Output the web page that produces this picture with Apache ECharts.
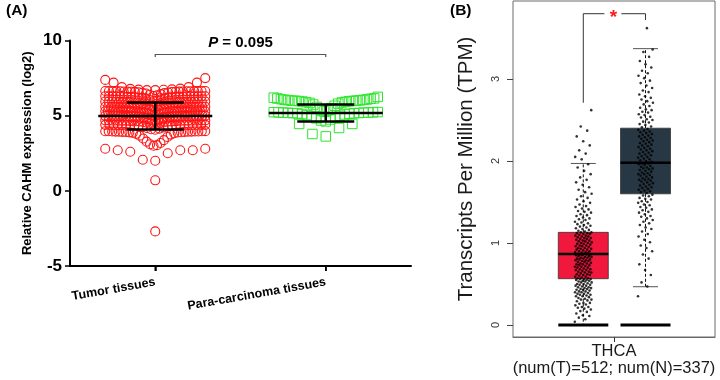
<!DOCTYPE html>
<html><head><meta charset="utf-8">
<script src="https://cdn.jsdelivr.net/npm/echarts@6/dist/echarts.min.js"></script>
<style>html,body{margin:0;padding:0;background:#fff}#c{width:720px;height:380px}</style>
</head><body><div id="c"></div>
<script>
// ---------- DATA ----------
const catsA = ['Tumor tissues', 'Para-carcinoma tissues'];
const tumorA = [
 7.50,7.38,7.20,7.20,6.90,6.90,6.80,6.78,6.75,6.73,6.72,6.70,6.70,
 6.31,6.35,6.39,6.43,6.47,6.50,6.52,6.54,6.56,6.57,6.58,6.59,6.59,6.60,6.60,6.61,6.61,6.62,6.62,6.62,6.63,6.63,6.63,6.63,6.64,6.64,6.64,6.64,
 5.96,6.00,6.04,6.08,6.12,6.15,6.17,6.19,6.21,6.22,6.23,6.24,6.24,6.25,6.25,6.26,6.26,6.27,6.27,6.27,6.28,6.28,6.28,6.28,6.29,6.29,6.29,6.29,
 5.61,5.65,5.69,5.73,5.77,5.80,5.82,5.84,5.86,5.87,5.88,5.89,5.89,5.90,5.90,5.91,5.91,5.91,5.92,5.92,5.92,5.93,5.93,5.93,5.93,5.94,5.94,5.94,5.94,5.94,
 5.31,5.34,5.37,5.40,5.43,5.45,5.47,5.49,5.50,5.51,5.52,5.53,5.53,5.54,5.54,5.55,5.55,5.55,5.56,5.56,5.56,5.57,5.57,5.57,5.57,5.58,5.58,5.58,5.58,5.58,5.59,5.59,5.59,5.59,5.59,
 5.01,5.03,5.06,5.09,5.12,5.14,5.16,5.18,5.19,5.20,5.21,5.22,5.22,5.23,5.23,5.24,5.24,5.25,5.25,5.25,5.26,5.26,5.26,5.27,5.27,5.27,5.27,5.28,5.28,5.28,5.28,5.28,5.29,5.29,5.29,5.29,5.29,5.29,5.29,5.29,
 4.71,4.73,4.76,4.79,4.82,4.85,4.87,4.89,4.90,4.91,4.92,4.93,4.93,4.94,4.94,4.95,4.95,4.95,4.96,4.96,4.96,4.97,4.97,4.97,4.97,4.98,4.98,4.98,4.98,4.98,4.99,4.99,4.99,4.99,4.99,
 4.41,4.44,4.47,4.50,4.53,4.56,4.58,4.60,4.61,4.62,4.63,4.64,4.64,4.65,4.65,4.66,4.66,4.66,4.67,4.67,4.67,4.68,4.68,4.68,4.68,4.69,4.69,4.69,4.69,4.69,
 4.06,4.10,4.14,4.18,4.22,4.25,4.28,4.30,4.32,4.33,4.34,4.35,4.35,4.36,4.36,4.37,4.37,4.37,4.38,4.38,4.38,4.39,4.39,4.39,4.39,
 3.00,3.04,3.10,3.18,3.27,3.37,3.48,3.58,3.67,3.74,3.79,3.83,3.86,3.88,3.89,3.90,3.91,3.92,3.92,3.93,
 3.93,3.94,3.94,3.95,3.95,3.95,3.96,3.96,3.96,3.97,
 2.80,2.80,2.70,2.70,2.70,2.60,2.50,2.07,2.00,
 0.70,-2.70
];
const paraA = [
 3.62,3.78,4.18,4.45,4.45,
 4.62,4.68,4.75,4.82,4.88,4.94,5.00,5.04,5.08,5.11,5.13,5.15,5.16,5.17,5.18,5.19,5.20,5.20,5.21,5.22,5.22,5.23,5.24,
 5.28,5.35,5.42,5.50,5.58,5.66,5.74,5.80,5.85,5.88,5.90,5.92,5.94,5.96,5.97,5.98,5.99,6.00,6.00,6.02,6.03,6.05,
 6.06,6.08,6.10,6.12,6.14,6.15,6.20,6.25
];
const meanA = [4.98, 5.18];
const sdA = [0.90, 0.56];
const pSymbol = 'P';
const pValue = '0.095';

const catsB = ['THCA'];
const countsB = [512, 337];
const tumorTPM = [
 0.04,0.07,0.09,0.11,0.12,0.14,0.16,0.17,0.19,0.20,
 0.21,0.22,0.22,0.24,0.25,0.26,0.27,0.27,0.29,0.30,0.31,0.31,0.32,0.33,0.34,0.35,0.35,0.36,0.37,0.37,0.38,0.38,0.39,0.40,0.40,
 0.41,0.41,0.42,0.43,0.43,0.44,0.44,0.45,0.45,0.46,0.46,0.47,0.48,0.48,0.49,0.49,0.50,0.50,0.51,0.52,0.52,0.53,0.53,0.54,0.54,0.55,0.55,0.56,0.56,0.56,
 0.57,0.57,0.58,0.59,0.59,0.60,0.61,0.61,0.62,0.62,0.63,0.64,0.64,0.65,0.65,0.66,0.67,0.67,0.68,0.68,0.69,0.70,0.70,0.71,0.71,0.72,0.73,0.73,0.74,0.74,
 0.75,0.75,0.76,0.77,0.77,0.78,0.78,0.79,0.79,0.80,0.80,0.81,0.81,0.82,0.82,0.83,0.83,0.84,0.84,0.85,0.85,0.86,0.86,0.86,
 0.87,0.87,0.88,0.88,0.89,0.89,0.90,0.90,0.91,0.92,0.92,0.93,0.93,0.94,0.94,0.95,0.96,0.96,0.97,0.97,0.98,0.99,0.99,1.00,1.00,
 1.01,1.02,1.02,1.03,1.03,1.04,1.05,1.05,1.06,1.06,1.07,1.08,1.08,1.09,1.09,1.10,1.11,1.11,1.12,1.12,1.13,1.13,
 1.14,1.15,1.16,1.17,1.18,1.19,1.20,1.21,1.22,1.23,1.24,1.25,1.26,1.28,1.29,1.30,1.31,1.33,1.34,1.35,1.37,1.38,1.39,1.41,1.42,1.44,1.45,1.47,1.49,
 1.51,1.53,1.55,1.57,1.60,1.62,1.65,1.68,1.71,1.74,1.77,1.80,1.84,1.88,1.92,1.96,
 2.02,2.05,2.09,2.13,2.19,2.24,2.30,2.37,2.42,2.62
];
const normalTPM = [
 0.35,0.47,0.52,0.61,0.67,0.74,0.81,0.86,0.90,0.94,
 0.97,1.01,1.04,1.08,1.11,1.14,1.17,1.19,1.22,1.24,1.26,1.28,
 1.30,1.32,1.33,1.35,1.37,1.38,1.40,1.41,1.43,1.44,1.46,1.47,1.49,1.50,1.51,1.53,1.54,1.55,1.57,1.58,1.59,
 1.61,1.62,1.63,1.64,1.65,1.66,1.67,1.68,1.69,1.70,1.71,1.72,1.73,1.74,1.75,1.76,1.77,1.77,1.78,1.79,1.80,
 1.81,1.82,1.83,1.84,1.84,1.85,1.86,1.87,1.88,1.89,1.90,1.91,1.91,1.92,1.93,1.94,1.95,1.96,1.97,1.97,
 1.99,2.00,2.01,2.02,2.03,2.04,2.05,2.06,2.07,2.08,2.09,2.10,2.11,2.12,2.13,2.14,2.15,2.16,2.17,2.18,2.19,
 2.20,2.21,2.22,2.23,2.24,2.25,2.26,2.27,2.28,2.29,2.30,2.31,2.32,2.33,2.34,2.35,2.36,2.37,2.38,2.39,
 2.41,2.42,2.44,2.45,2.47,2.48,2.50,2.51,2.53,2.54,2.56,2.57,2.59,2.60,2.62,2.63,2.65,2.67,2.69,2.71,2.73,2.75,2.77,2.79,
 2.81,2.84,2.86,2.89,2.92,2.95,2.98,3.01,3.04,3.07,3.10,3.14,3.18,3.22,3.27,3.33,3.36,
 3.62
];
// [lower whisker, Q1, median, Q3, upper whisker]
const boxTumor = [0, 0.565, 0.865, 1.13, 1.97];
const boxNormal = [0.467, 1.60, 1.98, 2.40, 3.37];
const floorB = [0, 0];
const sigMark = '*';

// ---------- LAYOUT ----------
const FONT = '"Liberation Sans", Arial, sans-serif';
const GA = {left: 70, top: 40.5, width: 341, height: 225.5};
const GB = {left: 513, top: 1, width: 202, height: 336};
const binsA = [-3, 0, 1.9, 2.95, 4.05, 4.4, 4.7, 5.0, 5.3, 5.6, 5.95, 6.3, 6.65, 7.6];
const binsP = [3.5, 4.6, 5.25, 6.4];
const pxA = GA.width / 2;
const pxB = GB.width;
const posT = 0.348, posN = 0.656;

function swarm(vals, bins, center, Wpx, maxSp, ppu) {
  const out = [];
  for (let b = 0; b < bins.length - 1; b++) {
    const vs = vals.filter(v => v >= bins[b] && v < bins[b + 1]).sort((a, c) => a - c);
    const n = vs.length;
    if (!n) continue;
    const sp = n > 1 ? Math.min(maxSp, Wpx / (n - 1)) : 0;
    vs.forEach((v, k) => {
      let off;
      if (n % 2) { const m = Math.ceil(k / 2); off = (k % 2 ? -m : m) * sp; }
      else { const m = Math.floor(k / 2) + 0.5; off = (k % 2 ? m : -m) * sp; }
      out.push([center + off / ppu, v]);
    });
  }
  return out;
}
function jitter(vals, center, halfPx, ppu) {
  return vals.map((v, i) => [center + (((i * 0.618034) % 1) * 2 - 1) * halfPx / ppu, v]);
}

const chart = echarts.init(document.getElementById('c'), null, {renderer: 'canvas'});
const option = {
  animation: false,
  backgroundColor: '#fff',
  textStyle: {fontFamily: FONT},
  grid: [
    Object.assign({outerBoundsMode: 'none', containLabel: false}, GA),
    Object.assign({outerBoundsMode: 'none', containLabel: false, show: true, borderColor: '#6a6a6a', borderWidth: 1, backgroundColor: 'transparent'}, GB)
  ],
  xAxis: [
    {type: 'category', gridIndex: 0, data: catsA, boundaryGap: true, position: 'bottom',
     axisLine: {show: true, onZero: false, lineStyle: {color: '#000', width: 2}},
     axisTick: {show: true, alignWithLabel: true, length: 5, lineStyle: {color: '#000', width: 1.5}},
     axisLabel: {rotate: 10, margin: 16, color: '#000', fontWeight: 'bold', fontSize: 12.5, fontFamily: FONT},
     splitLine: {show: false}},
    {type: 'value', gridIndex: 0, min: 0.5, max: 2.5, show: false, axisLine: {onZero: false}},
    {type: 'category', gridIndex: 1, data: catsB, boundaryGap: true, position: 'bottom',
     axisLine: {show: true, onZero: false, lineStyle: {color: '#6a6a6a', width: 1}},
     axisTick: {show: true, alignWithLabel: true, length: 5, lineStyle: {color: '#333', width: 1}},
     axisLabel: {margin: 6, color: '#1a1a1a', fontSize: 16.5, lineHeight: 17, fontFamily: FONT,
       formatter: v => v + '\n(num(T)=' + countsB[0] + '; num(N)=' + countsB[1] + ')'},
     splitLine: {show: false}},
    {type: 'value', gridIndex: 1, min: 0, max: 1, show: false, axisLine: {onZero: false}}
  ],
  yAxis: [
    {type: 'value', gridIndex: 0, min: -5, max: 10, interval: 5,
     name: 'Relative CAHM expression (log2)', nameLocation: 'middle', nameGap: 36,
     nameTextStyle: {fontWeight: 'bold', fontSize: 13, color: '#000', fontFamily: FONT},
     axisLine: {show: true, onZero: false, lineStyle: {color: '#000', width: 2}},
     axisTick: {show: true, length: 5, lineStyle: {color: '#000', width: 1.5}},
     axisLabel: {margin: 8, color: '#000', fontWeight: 'bold', fontSize: 17, fontFamily: FONT},
     splitLine: {show: false}},
    {type: 'value', gridIndex: 1, min: -0.146, max: 3.951,
     name: 'Transcripts Per Million (TPM)', nameLocation: 'middle', nameGap: 36,
     nameTextStyle: {fontSize: 20.5, color: '#1a1a1a', fontFamily: FONT},
     axisLine: {show: false, onZero: false},
     axisTick: {show: true, length: 6, customValues: [0, 1, 2, 3], lineStyle: {color: '#444', width: 1}},
     axisLabel: {rotate: 90, margin: 12, customValues: [0, 1, 2, 3], color: '#333', fontSize: 11, fontFamily: FONT},
     splitLine: {show: false}}
  ],
  series: [
    {type: 'scatter', xAxisIndex: 1, yAxisIndex: 0, silent: true, symbol: 'circle', symbolSize: 9,
     itemStyle: {color: 'rgba(255,255,255,0)', borderColor: '#ff1414', borderWidth: 1.1, opacity: 1},
     data: swarm(tumorA, binsA, 1, 100, 12.5, pxA)},
    {type: 'scatter', xAxisIndex: 1, yAxisIndex: 0, silent: true, symbol: 'rect', symbolSize: 9.5,
     itemStyle: {color: 'rgba(255,255,255,0)', borderColor: '#2ee52e', borderWidth: 1, opacity: 1},
     data: swarm(paraA, binsP, 2, 104, 13.3, pxA)},
    {type: 'custom', xAxisIndex: 1, yAxisIndex: 0, silent: true, z: 5,
     encode: {x: 0, y: 1},
     data: [[1, meanA[0], sdA[0]], [2, meanA[1], sdA[1]]],
     renderItem: (params, api) => {
       const x = api.value(0), m = api.value(1), s = api.value(2);
       const c = api.coord([x, m]);
       const t = api.coord([x, m + s])[1], b = api.coord([x, m - s])[1];
       const st = {stroke: '#000', lineWidth: 2.5};
       return {type: 'group', children: [
         {type: 'line', shape: {x1: c[0] - 57, y1: c[1], x2: c[0] + 57, y2: c[1]}, style: st},
         {type: 'line', shape: {x1: c[0], y1: t, x2: c[0], y2: b}, style: st},
         {type: 'line', shape: {x1: c[0] - 28.5, y1: t, x2: c[0] + 28.5, y2: t}, style: st},
         {type: 'line', shape: {x1: c[0] - 28.5, y1: b, x2: c[0] + 28.5, y2: b}, style: st}
       ]};
     }},
    {type: 'custom', xAxisIndex: 3, yAxisIndex: 1, silent: true, z: 1,
     encode: {x: 0, y: 3},
     data: [[posT].concat(boxTumor, [floorB[0], 0]), [posN].concat(boxNormal, [floorB[1], 1])],
     renderItem: (params, api) => {
       const x = api.value(0);
       const lo = api.value(1), q1 = api.value(2), md = api.value(3), q3 = api.value(4), hi = api.value(5), fl = api.value(6);
       const fill = api.value(7) === 0 ? '#f0183d' : '#273743';
       const P = v => api.coord([x, v]);
       const cx = P(md)[0], yq1 = P(q1)[1], yq3 = P(q3)[1], ymd = P(md)[1], ylo = P(lo)[1], yhi = P(hi)[1], yfl = P(fl)[1];
       const hw = 25, cw = 12.5;
       const dash = {stroke: '#111', lineWidth: 1, lineDash: [3, 2]};
       const cap = {stroke: '#555', lineWidth: 1};
       return {type: 'group', children: [
         {type: 'line', shape: {x1: cx, y1: yq3, x2: cx, y2: yhi}, style: dash},
         {type: 'line', shape: {x1: cx, y1: yq1, x2: cx, y2: ylo}, style: dash},
         {type: 'line', shape: {x1: cx - cw, y1: yhi, x2: cx + cw, y2: yhi}, style: cap},
         {type: 'line', shape: {x1: cx - cw, y1: ylo, x2: cx + cw, y2: ylo}, style: cap},
         {type: 'rect', shape: {x: cx - hw, y: yq3, width: 2 * hw, height: yq1 - yq3}, style: {fill: fill, stroke: '#333', lineWidth: 0.8}},
         {type: 'line', shape: {x1: cx - hw, y1: ymd, x2: cx + hw, y2: ymd}, style: {stroke: '#000', lineWidth: 2.5}},
         {type: 'line', shape: {x1: cx - hw, y1: yfl, x2: cx + hw, y2: yfl}, style: {stroke: '#000', lineWidth: 3}}
       ]};
     }},
    {type: 'scatter', xAxisIndex: 3, yAxisIndex: 1, silent: true, z: 3, symbolSize: 2.6,
     itemStyle: {color: '#000'}, data: jitter(tumorTPM, posT, 8.5, pxB)},
    {type: 'scatter', xAxisIndex: 3, yAxisIndex: 1, silent: true, z: 3, symbolSize: 2.6,
     itemStyle: {color: '#000'}, data: jitter(normalTPM, posN, 7.5, pxB)}
  ]
};
chart.setOption(option);

const pa = pt => chart.convertToPixel({xAxisIndex: 1, yAxisIndex: 0}, pt);
const pb = pt => chart.convertToPixel({xAxisIndex: 3, yAxisIndex: 1}, pt);
const a1 = pa([1, 9.07]), a2 = pa([2, 9.07]), aE = pa([1, 8.9]), aT = pa([1.5, 9.85]);
const axL = pa([0.5, -5]), axR = pa([2.5, -5]), tk1 = pa([1, -5]), tk2 = pa([2, -5]);
const bTop = pb([posT, 3.796])[1], bL = pb([posT, 2.71]), bR = pb([posN, 3.72]);
const bMid = (bL[0] + bR[0]) / 2;
chart.setOption({graphic: [
  {type: 'line', zlevel: 5, z: 100, shape: {x1: axL[0] - 1, y1: axL[1], x2: axR[0], y2: axR[1]}, style: {stroke: '#000', lineWidth: 2}},
  {type: 'line', zlevel: 5, z: 100, shape: {x1: tk1[0], y1: tk1[1], x2: tk1[0], y2: tk1[1] + 5}, style: {stroke: '#000', lineWidth: 1.5}},
  {type: 'line', zlevel: 5, z: 100, shape: {x1: tk2[0], y1: tk2[1], x2: tk2[0], y2: tk2[1] + 5}, style: {stroke: '#000', lineWidth: 1.5}},
  {type: 'text', left: 6, top: 3, style: {text: '(A)', fontWeight: 'bold', fontSize: 15.5, fontFamily: FONT, fill: '#000'}},
  {type: 'text', left: 450, top: 3, style: {text: '(B)', fontWeight: 'bold', fontSize: 15.5, fontFamily: FONT, fill: '#000'}},
  {type: 'polyline', shape: {points: [[a1[0], aE[1]], [a1[0], a1[1]], [a2[0], a2[1]], [a2[0], aE[1]]]}, style: {stroke: '#555', lineWidth: 1.2, fill: null}},
  {type: 'text', x: aT[0], y: aT[1], style: {text: '{i|' + pSymbol + '} = ' + pValue, align: 'center', verticalAlign: 'middle', fontWeight: 'bold', fontSize: 15, fontFamily: FONT, fill: '#000',
     rich: {i: {fontStyle: 'italic', fontWeight: 'bold', fontSize: 15, fontFamily: FONT}}}},
  {type: 'polyline', shape: {points: [[bL[0], bL[1]], [bL[0], bTop], [bMid - 10, bTop]]}, style: {stroke: '#333', lineWidth: 1, fill: null}},
  {type: 'polyline', shape: {points: [[bMid + 7, bTop], [bR[0], bTop], [bR[0], bR[1]]]}, style: {stroke: '#333', lineWidth: 1, fill: null}},
  {type: 'text', x: bMid - 1, y: bTop + 4, style: {text: sigMark, align: 'center', verticalAlign: 'middle', fontWeight: 'bold', fontSize: 19, fontFamily: FONT, fill: '#ff1a1a'}}
]});
</script></body></html>
